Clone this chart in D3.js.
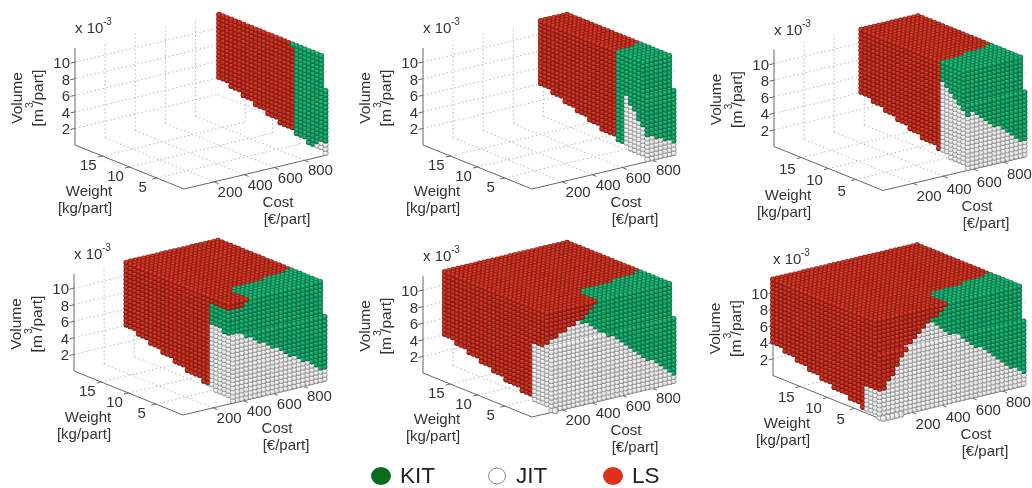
<!DOCTYPE html>
<html>
<head>
<meta charset="utf-8">
<script src="https://d3js.org/d3.v7.min.js"></script>
<style>
  html, body { margin: 0; padding: 0; background: #fff; }
  svg { display: block; filter: blur(0.5px); }
  text { font-family: "Liberation Sans", Arial, sans-serif; fill: #333; }
</style>
</head>
<body>
<div id="chart"></div>
<script>
// axis ticks
const costTicks = [200, 400, 600, 800];
const weightTicks = [5, 10, 15];
const volumeTicks = [2, 4, 6, 8, 10];

// levels of the scenario grid (cost, weight and volume x 10^-3)
const costLevels = [955, 926, 897, 868, 839, 810, 781, 752, 723, 694, 665, 636, 607, 578, 549, 520, 491,
    462, 433, 404, 375, 346, 317, 288, 259, 230, 201, 172, 143, 114, 85, 56, 27, -2];
const weightLevels = [1.2, 1.95, 2.7, 3.45, 4.2, 4.95, 5.7, 6.45, 7.2, 7.95, 8.7, 9.45, 10.2, 10.95, 11.7, 12.45,
    13.2, 13.95, 14.7, 15.45, 16.2, 16.95, 17.7, 18.45, 19.2, 19.95];
const volumeLevels = [11.6, 11.1, 10.6, 10.1, 9.6, 9.1, 8.6, 8.1, 7.6, 7.1, 6.6, 6.1, 5.6, 5.1, 4.6, 4.1, 3.6, 3.1, 2.6, 2.1, 1.6, 1.1, 0.6, 0.1];
const frontRowWeight = 0.4;
const frontRowTop = 7.7;
const lowRowWeight = -0.3;
const lowRowVolume = 0.2;

// lower limit of the block, volume against weight
const floorWeight = [0, 7, 20];
const floorVolume = [0, 1.2, 4.1];

// one entry per panel
const costMin = [955, 781, 578, 346, 143, -2];
const lowRowCount = [0, 0, 0, 0, 1, 5];
const leftRedWeight = [6.2, 5.7, 5.6, 4.4, 4, 2.7];
const leftRedVolume = [99, 99, 99, 10.7, 0, 0];
const leftWhiteWeight = [[0.4, 1.5, 2.7], [0.4, 3.5, 4.2], [0.4, 5.6], [0.4, 4.4], [0.4, 4], [0.4, 2.7]];
const leftWhiteVolume = [[1.5, 1, 0.5], [3, 6, 6.9], [6.5, 9.5], [7.8, 8.5], [7.8, 7], [3.2, 3.2]];
const frontRedCost = [[], [], [], [350, 470], [130, 160, 359, 480], [10, 153, 352, 480]];
const frontRedVolume = [[], [], [], [10.7, 11.2], [8, 8, 9.8, 11.6], [3, 6.9, 9.9, 11.6]];
// KIT / JIT border on the front face
const frontBorderCost = [[790, 950], [790, 950], [585, 990], [377, 537, 965], [359, 578, 943], [352, 545, 965]];
const frontBorderVolume = [[2.8, 1.4], [2.8, 1.4], [7, 1.1], [8, 6.4, 1.1], [9.8, 6.7, 1.1], [9.9, 7.4, 1.1]];

// KIT / LS border on the top face
const topBorderCost = [470, 610, 800, 955];
const topBorderWeight = [4.7, 5.5, 5.8, 6.6];

const legendNames = ["KIT", "JIT", "LS"];

// layout
const width = 1032, height = 488;
const corners = [[184, 189], [532, 189], [883, 190.5], [183, 415], [532, 417], [882, 419.5]];
const labelShift = [0, 0, 2.5, 0, 0, 1.5];

const costX = d3.scaleLinear().domain([0, 950]).range([0, 143]);
const costY = d3.scaleLinear().domain([0, 950]).range([0, -34]);
const weightX = d3.scaleLinear().domain([0, 20]).range([0, -109]);
const weightY = d3.scaleLinear().domain([0, 20]).range([0, -44]);
const volY = d3.scaleLinear().domain([0, 11.7]).range([0, -97]);
const floorScale = d3.scaleLinear().domain(floorWeight).range(floorVolume);
const topBorder = d3.scaleLinear().domain(topBorderCost).range(topBorderWeight).clamp(true);

const svg = d3.select("#chart").append("svg")
    .attr("width", width)
    .attr("height", height);

const defs = svg.append("defs");
const shades = {
    LS: ["#ea452e", "#b5281a", "#5a100b"],
    KIT: ["#2bcb88", "#0f985d", "#055434"],
    JIT: ["#ffffff", "#e0e0e0", "#6e6e6e"]
};
Object.keys(shades).forEach(k => {
    const g = defs.append("radialGradient").attr("id", "ball" + k)
        .attr("cx", "50%").attr("cy", "50%").attr("r", "55%")
        .attr("fx", "42%").attr("fy", "32%");
    g.append("stop").attr("offset", "0%").attr("stop-color", shades[k][0]);
    g.append("stop").attr("offset", "58%").attr("stop-color", shades[k][1]);
    g.append("stop").attr("offset", "100%").attr("stop-color", shades[k][2]);
});

function classify(p, c, w, v, isTop) {
    if (isTop) {
        return (c >= topBorderCost[0] && w < topBorder(c)) ? "KIT" : "LS";
    }
    if (c === costMin[p]) {
        if (w > leftRedWeight[p]) return "LS";
        const ww = leftWhiteWeight[p], wv = leftWhiteVolume[p];
        if (w <= ww[ww.length - 1]) {
            const line = d3.scaleLinear().domain(ww).range(wv).clamp(true);
            if (v < line(w)) return "JIT";
        }
        return v > leftRedVolume[p] ? "LS" : "KIT";
    }
    const rc = frontRedCost[p];
    if (rc.length && c <= rc[rc.length - 1]) {
        const line = d3.scaleLinear().domain(rc).range(frontRedVolume[p]).clamp(true);
        if (v > line(c)) return "LS";
    }
    const border = d3.scaleLinear().domain(frontBorderCost[p]).range(frontBorderVolume[p]).clamp(true);
    return v < border(c) ? "JIT" : "KIT";
}

// only the outer faces of the block are visible
function panelPoints(p) {
    const costs = costLevels.filter(c => c >= costMin[p]);
    const pts = [];
    costs.forEach(c => {
        weightLevels.forEach(w => {
            const isLeft = c === costMin[p], isFront = w === weightLevels[0];
            pts.push({c: c, w: w, v: volumeLevels[0], cls: classify(p, c, w, volumeLevels[0], true)});
            if (isLeft || isFront) {
                volumeLevels.slice(1).forEach(v => {
                    if (v < floorScale(w)) return;
                    if (!isLeft && v < frontRowTop - 1) return;
                    pts.push({c: c, w: w, v: v, cls: classify(p, c, w, v, false)});
                });
            }
        });
        volumeLevels.filter(v => v <= frontRowTop).forEach(v => {
            pts.push({c: c, w: frontRowWeight, v: v, cls: classify(p, c, frontRowWeight, v, false)});
        });
    });
    if (lowRowCount[p] > 0) {
        costs.slice(-lowRowCount[p]).forEach(c => {
            pts.push({c: c, w: lowRowWeight, v: lowRowVolume, cls: "JIT"});
        });
    }
    // back to front
    return pts.sort((a, b) => d3.descending(a.w, b.w) || d3.descending(a.c, b.c) || d3.ascending(a.v, b.v));
}

corners.forEach((corner, p) => {
    const g = svg.append("g").attr("transform", "translate(" + corner[0] + "," + corner[1] + ")");
    const px = (c, w) => costX(c) + weightX(w);
    const py = (c, w, v) => costY(c) + weightY(w) + volY(v);
    const seg = (a, b) => [[px(a[0], a[1]), py(a[0], a[1], a[2])], [px(b[0], b[1]), py(b[0], b[1], b[2])]];
    const dy = labelShift[p];

    // dotted grid on floor and back walls
    const gridSegs = [];
    costTicks.forEach(c => {
        gridSegs.push(seg([c, 0, 0], [c, 20, 0]));
        gridSegs.push(seg([c, 20, 0], [c, 20, 11.7]));
    });
    weightTicks.forEach(w => {
        gridSegs.push(seg([0, w, 0], [950, w, 0]));
        gridSegs.push(seg([950, w, 0], [950, w, 11.7]));
    });
    volumeTicks.forEach(v => {
        gridSegs.push(seg([0, 20, v], [950, 20, v]));
        gridSegs.push(seg([950, 20, v], [950, 0, v]));
    });
    g.selectAll(".grid").data(gridSegs).join("path")
        .attr("class", "grid")
        .attr("d", d3.line())
        .attr("fill", "none")
        .attr("stroke", "#b8b8b8")
        .attr("stroke-width", 1)
        .attr("stroke-dasharray", "1.5 2.5");

    // axes
    const axisSegs = [seg([0, 20, 0], [0, 20, 11.7]), seg([0, 20, 0], [0, 0, 0]), seg([0, 0, 0], [950, 0, 0])];
    costTicks.forEach(c => axisSegs.push(seg([c, 0, 0], [c, -0.8, 0])));
    weightTicks.forEach(w => axisSegs.push(seg([0, w, 0], [-30, w, 0])));
    volumeTicks.forEach(v => axisSegs.push(seg([0, 20, v], [-30, 20, v])));
    g.selectAll(".axis").data(axisSegs).join("path")
        .attr("class", "axis")
        .attr("d", d3.line())
        .attr("fill", "none")
        .attr("stroke", "#666")
        .attr("stroke-width", 1);

    // balls
    g.selectAll(".ball").data(panelPoints(p)).join("circle")
        .attr("class", "ball")
        .attr("cx", d => px(d.c, d.w))
        .attr("cy", d => py(d.c, d.w, d.v))
        .attr("r", d => d.w === lowRowWeight ? 3.2 : 2.9)
        .attr("fill", d => "url(#ball" + d.cls + ")");

    // tick labels
    g.selectAll(".volTick").data(volumeTicks).join("text")
        .attr("class", "volTick")
        .attr("x", px(0, 20) - 5)
        .attr("y", d => py(0, 20, d) + 6)
        .attr("text-anchor", "end")
        .attr("font-size", 15)
        .text(d => d);
    g.selectAll(".weightTick").data(weightTicks).join("text")
        .attr("class", "weightTick")
        .attr("x", d => px(0, d) - 14)
        .attr("y", d => py(0, d, 0) + 14 + dy)
        .attr("text-anchor", "middle")
        .attr("font-size", 15)
        .text(d => d);
    g.selectAll(".costTick").data(costTicks).join("text")
        .attr("class", "costTick")
        .attr("x", d => px(d, 0) + 16)
        .attr("y", d => py(d, 0, 0) + 15 + dy)
        .attr("text-anchor", "middle")
        .attr("font-size", 15)
        .text(d => d);

    // titles
    const label = (x, y, s, size, anchor) => g.append("text")
        .attr("x", x).attr("y", y)
        .attr("text-anchor", anchor || "middle")
        .attr("font-size", size)
        .text(s);
    label(-95, 7 + dy, "Weight", 15);
    label(-99, 24 + dy, "[kg/part]", 15);
    label(94, 18 + dy, "Cost", 15);
    label(103, 35 + dy, "[€/part]", 15);
    label(-109, -156, "x 10", 15, "start");
    label(-81, -164, "-3", 10, "start");

    const rot = (x, y, s, size) => g.append("text")
        .attr("transform", "translate(" + x + "," + y + ") rotate(-90)")
        .attr("text-anchor", "middle")
        .attr("font-size", size)
        .text(s);
    rot(-162, -91, "Volume", 15.5);
    rot(-141, -91, "[m  /part]", 15.5);
    rot(-151, -84, "3", 10.5);
});

// legend
const legendX = d3.scalePoint().domain(legendNames).range([381, 613]);
const legendFill = {KIT: "#0b6b1f", JIT: "#ffffff", LS: "#df2f1d"};
const legend = svg.selectAll(".legend").data(legendNames).join("g")
    .attr("class", "legend")
    .attr("transform", d => "translate(" + legendX(d) + ",476)");
legend.append("ellipse")
    .attr("rx", d => d === "JIT" ? 8.5 : 10)
    .attr("ry", d => d === "JIT" ? 8 : 9)
    .attr("fill", d => legendFill[d])
    .attr("stroke", d => d === "JIT" ? "#888" : "none")
    .attr("stroke-width", 1);
legend.append("text")
    .attr("x", 19)
    .attr("y", 7)
    .attr("font-size", 22.5)
    .style("fill", "#222")
    .text(d => d);
</script>
</body>
</html>
